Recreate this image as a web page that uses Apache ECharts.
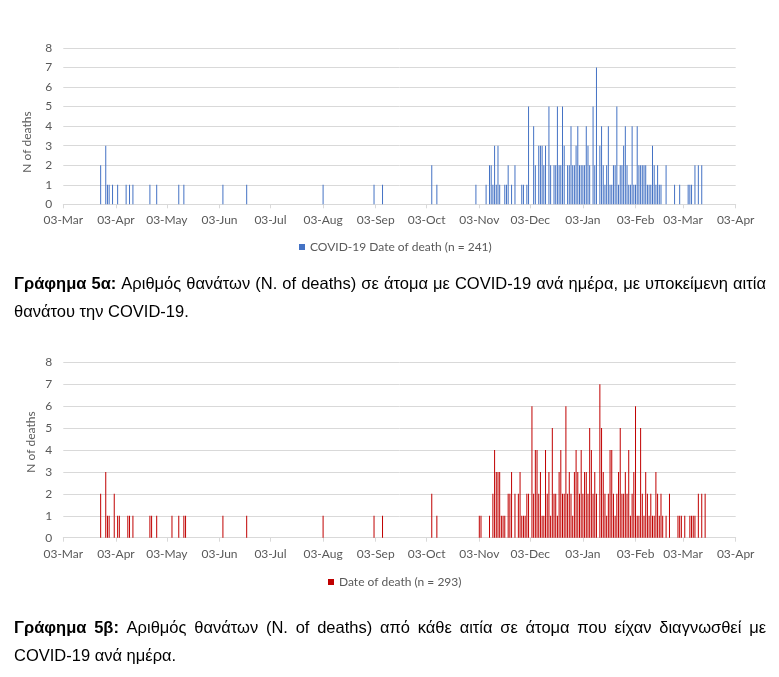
<!DOCTYPE html>
<html><head><meta charset="utf-8">
<script src="https://cdn.jsdelivr.net/npm/echarts@6/dist/echarts.min.js"></script>
<style>html,body{margin:0;padding:0;background:#fff}#c{width:779px;height:677px}</style>
</head><body><div id="c"></div>
<script>
// ---- data ----
const startDate = [2020, 2, 3];   // 03-Mar-2020 (first category)
const dayCount = 397;             // through 03-Apr-2021
const monthNames = ['Jan','Feb','Mar','Apr','May','Jun','Jul','Aug','Sep','Oct','Nov','Dec'];
const yMin = 0, yMax = 8, yStep = 1;

// Chart 5a: COVID-19 as underlying cause (day offset from 03-Mar-2020, deaths)
const covidDays = [22,25,26,27,29,32,37,39,41,51,55,68,71,94,108,153,183,188,217,220,
  243,249,251,252,253,254,255,256,257,260,261,262,264,266,270,271,273,274,277,278,
  280,281,282,283,284,286,287,289,290,291,292,293,294,295,297,298,299,300,301,302,
  303,304,305,306,307,308,309,310,312,313,314,316,317,318,319,320,321,322,323,324,
  325,326,327,328,329,330,331,332,333,334,335,336,337,338,339,340,341,342,343,344,
  345,346,347,348,349,350,351,352,355,360,363,368,369,370,372,374,376];
const covidCounts = [2,3,1,1,1,1,1,1,1,1,1,1,1,1,1,1,1,1,2,1,
  1,1,2,2,1,3,1,3,1,1,1,2,1,2,1,1,1,5,4,2,
  3,3,3,2,3,5,2,2,2,5,2,2,5,3,2,2,4,2,2,3,
  4,2,2,2,2,4,3,2,5,2,7,3,4,2,1,2,4,1,1,2,
  2,5,1,2,2,3,4,2,1,1,4,1,1,4,2,2,2,2,2,1,
  1,1,3,2,1,2,1,1,2,1,1,1,1,1,2,2,2];

// Chart 5b: all causes
const allDays = [22,25,26,27,30,32,33,38,39,41,51,52,55,64,68,71,72,94,108,153,183,188,217,220,
  245,246,251,253,254,255,256,257,258,259,260,262,263,264,266,268,269,270,271,272,
  273,274,276,277,278,279,280,281,282,283,284,285,286,287,288,289,290,291,292,293,
  294,295,296,297,298,299,300,301,302,303,304,305,306,307,308,309,310,311,312,313,
  314,316,317,318,319,320,321,322,323,324,325,326,327,328,329,330,331,332,333,334,
  335,336,337,338,339,340,341,342,343,344,345,346,347,348,349,350,351,352,353,355,
  357,362,363,364,366,369,370,371,372,374,376,378];
const allCounts = [2,3,1,1,2,1,1,1,1,1,1,1,1,1,1,1,1,1,1,1,1,1,2,1,
  1,1,1,2,4,3,3,3,1,1,1,2,2,3,2,2,3,1,1,1,
  2,2,6,2,4,4,2,3,1,1,4,2,3,1,5,2,2,1,3,4,
  2,2,6,2,3,2,1,3,4,3,2,4,2,3,3,2,5,4,2,3,
  2,7,5,3,2,1,2,4,4,2,1,2,3,5,2,2,3,2,4,1,
  2,3,6,1,1,5,2,1,3,2,1,2,1,1,3,2,1,2,1,1,
  2,1,1,1,1,1,1,1,1,2,2,2];

const seriesNames = ['COVID-19 Date of death (n = 241)', 'Date of death (n = 293)'];
const seriesColors = ['#4472C4', '#C00000'];
const yAxisTitle = 'N of deaths';
const captions = [
  [[{t:'Γράφημα 5α:', b:true}, {t:'Αριθμός θανάτων (N. of deaths) σε άτομα με COVID-19 ανά ημέρα, με υποκείμενη αιτία'}], [{t:'θανάτου την COVID-19.'}]],
  [[{t:'Γράφημα 5β:', b:true}, {t:'Αριθμός θανάτων (N. of deaths) από κάθε αιτία σε άτομα που είχαν διαγνωσθεί με'}], [{t:'COVID-19 ανά ημέρα.'}]]
];

// ---- build ----
const categories = [];
for (let i = 0; i < dayCount; i++) {
  const d = new Date(Date.UTC(startDate[0], startDate[1], startDate[2] + i));
  categories.push(String(d.getUTCDate()).padStart(2,'0') + '-' + monthNames[d.getUTCMonth()]);
}
function toSeries(days, counts) {
  const arr = new Array(dayCount).fill('-');
  days.forEach((d, i) => { arr[d] = counts[i]; });
  return arr;
}
const isTick = (idx, val) => String(val).startsWith('03-');
const gray = '#595959', grid = '#D9D9D9';
const FONT = 'Lato';

function xAxis(gi) {
  return {
    type: 'category', gridIndex: gi, data: categories, boundaryGap: false,
    axisLine: {lineStyle: {color: grid, width: 1}},
    axisTick: {show: true, interval: isTick, length: 4, lineStyle: {color: grid}},
    axisLabel: {interval: isTick, color: gray, fontFamily: FONT, fontSize: 12, margin: 10},
    splitLine: {show: false}
  };
}
function yAxis(gi) {
  return {
    type: 'value', gridIndex: gi, min: yMin, max: yMax, interval: yStep,
    axisLine: {show: false}, axisTick: {show: false},
    axisLabel: {color: gray, fontFamily: FONT, fontSize: 12, margin: 11},
    splitLine: {lineStyle: {color: grid, width: 1}}
  };
}

// captions (justified like the document)
const ctx = document.createElement('canvas').getContext('2d');
const capSize = 16.5, capL = 14, capR = 766;
function capFont(b) { return (b ? 'bold ' : '') + capSize + 'px "Liberation Sans"'; }
function lineElems(segs, y, justify) {
  const words = [];
  segs.forEach(s => s.t.split(' ').forEach(w => words.push({w, b: !!s.b})));
  let total = 0;
  words.forEach(o => { ctx.font = capFont(o.b); o.width = ctx.measureText(o.w).width; total += o.width; });
  ctx.font = capFont(false);
  const sp = justify ? (capR - capL - total) / (words.length - 1) : ctx.measureText(' ').width;
  let x = capL; const els = [];
  words.forEach(o => {
    els.push({type: 'text', x: x, y: y, style: {text: o.w, font: capFont(o.b), fill: '#000', textVerticalAlign: 'middle', verticalAlign: 'middle'}});
    x += o.width + sp;
  });
  return els;
}
const graphics = [];
[[284, 312], [628, 656]].forEach((ys, k) => {
  graphics.push(...lineElems(captions[k][0], ys[0], true));
  graphics.push(...lineElems(captions[k][1], ys[1], false));
});
[[27, 142], [31, 442]].forEach(p => graphics.push({
  type: 'text', x: p[0], y: p[1], rotation: Math.PI / 2,
  style: {text: yAxisTitle, font: '12px ' + FONT, fill: gray, textAlign: 'center', align: 'center', textVerticalAlign: 'middle', verticalAlign: 'middle'}
}));

const chart = echarts.init(document.getElementById('c'), null, {renderer: 'canvas'});
chart.setOption({
  backgroundColor: '#fff',
  animation: false,
  grid: [
    {left: 63.3, right: 43.3, top: 48, height: 156.3},
    {left: 63.3, right: 43.3, top: 362.3, height: 175.4}
  ],
  xAxis: [xAxis(0), xAxis(1)],
  yAxis: [yAxis(0), yAxis(1)],
  legend: [
    {data: [seriesNames[0]], left: 294, top: 236, icon: 'rect', itemWidth: 6, itemHeight: 6, itemGap: 5,
     textStyle: {color: gray, fontFamily: FONT, fontSize: 12}},
    {data: [seriesNames[1]], left: 323, top: 571, icon: 'rect', itemWidth: 6, itemHeight: 6, itemGap: 5,
     textStyle: {color: gray, fontFamily: FONT, fontSize: 12}}
  ],
  series: [
    {name: seriesNames[0], type: 'bar', xAxisIndex: 0, yAxisIndex: 0, barWidth: 1,
     itemStyle: {color: seriesColors[0]}, data: toSeries(covidDays, covidCounts)},
    {name: seriesNames[1], type: 'bar', xAxisIndex: 1, yAxisIndex: 1, barWidth: 1,
     itemStyle: {color: seriesColors[1]}, data: toSeries(allDays, allCounts)}
  ],
  graphic: graphics
});
</script></body></html>
